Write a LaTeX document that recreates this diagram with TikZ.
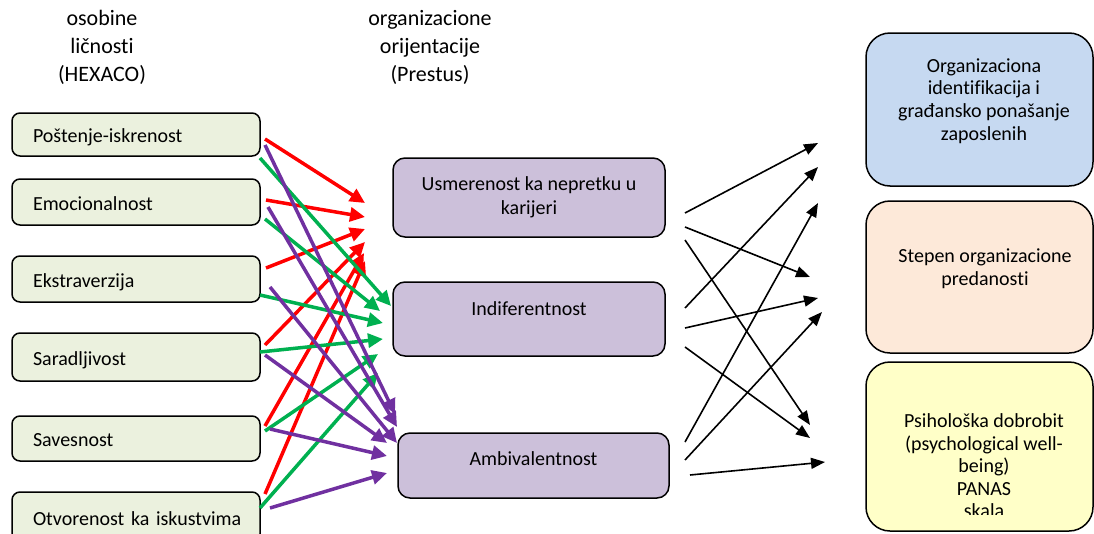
\documentclass[tikz,border=0pt]{standalone}
\usepackage{fontspec}
\setmainfont{Carlito}[Ligatures=NoCommon]
\usetikzlibrary{arrows.meta}
\definecolor{hexfill}{HTML}{EBF1DE}
\definecolor{orfill}{HTML}{CCC0DA}
\definecolor{identfill}{HTML}{C6D9F1}
\definecolor{predfill}{HTML}{FDE9D9}
\definecolor{dobrofill}{HTML}{FFFFC8}
\definecolor{redarrow}{HTML}{FF0000}
\definecolor{greenarrow}{HTML}{00B050}
\definecolor{purplearrow}{HTML}{7030A0}

\begin{document}
\begin{tikzpicture}[x=1pt,y=-1pt,
	every node/.style={font=\fontsize{20}{23}\selectfont},
	hexbox/.style={draw,line width=1.5pt,rounded corners=8pt,fill=hexfill,
		inner xsep=21pt,text width=206pt,align=left,text height=16pt,text depth=0pt,
		minimum height=#1},
	orbox/.style={draw,line width=1.5pt,rounded corners=12pt,fill=orfill},
	outbox/.style={draw,line width=1.5pt,rounded corners=24pt,fill=#1,
		minimum width=227pt},
	txt/.style={align=center,inner sep=0pt},
	head/.style={txt,font=\fontsize{22}{28}\selectfont},
	colarr/.style={draw=#1,line width=3.5pt,-{Triangle[length=15pt,width=14pt]}},
	blkarr/.style={line width=1.6pt,-{Triangle[length=14pt,width=11pt]}}]
	\clip (0,0) rectangle (1094,533);
	\node[head] (hexaco) at (102,47) {osobine\\ličnosti\\(HEXACO)};
	\node[head] (prestus) at (430,47) {organizacione\\orijentacije\\(Prestus)};

	\node[hexbox=43pt] (post) at (136,134.5) {Poštenje-iskrenost};
	\node[hexbox=46pt] (emoc) at (136,202) {Emocionalnost};
	\node[hexbox=46pt] (ekst) at (136,279) {Ekstraverzija};
	\node[hexbox=48pt] (sarad) at (136,357) {Saradljivost};
	\node[hexbox=45pt] (saves) at (136,438.5) {Savesnost};
	\node[hexbox=50pt] (otvor) at (136,517) {\mbox{Otvorenost ka iskustvima}};

	\node[orbox,minimum width=272pt,minimum height=79pt,align=center,
		font=\fontsize{20}{24}\selectfont] (usmer) at (529,197.5) {Usmerenost ka nepretku u\\karijeri};
	\node[orbox,minimum width=272pt,inner ysep=0pt,text height=33pt,text depth=41pt] (indif) at (529,319) {Indiferentnost};
	\node[orbox,minimum width=271pt,inner ysep=0pt,text height=32pt,text depth=33pt] (ambiv) at (533.5,465.5) {Ambivalentnost};

	\node[outbox=identfill,minimum height=153pt] (ident) at (979.5,109.5) {};
	\node[outbox=predfill,minimum height=152pt] (pred) at (979.5,277) {};
	\node[outbox=dobrofill,minimum height=169pt] (dobro) at (979.5,446.5) {};
	\node[txt,font=\fontsize{20}{22.7}\selectfont] (ident-t) at (984,101) {Organizaciona\\identifikacija i\\građansko ponašanje\\zaposlenih};
	\node[txt,font=\fontsize{20}{22.7}\selectfont] (pred-t) at (985,268.5) {Stepen organizacione\\predanosti};
	\begin{scope}
		\clip (860,380) rectangle (1094,514);
		\node[txt,font=\fontsize{20}{22.5}\selectfont] (dobro-t) at (984,466) {Psihološka dobrobit\\(psychological well-\\being)\\PANAS\\skala};
	\end{scope}

	\coordinate (post-r) at (265,139);
	\coordinate (emoc-r) at (266,200);
	\coordinate (ekst-r) at (266,268);
	\coordinate (sarad-r) at (265,345);
	\coordinate (saves-r) at (265,426);
	\coordinate (otvor-r) at (265,494);
	\coordinate (usmer-1) at (365,203);
	\coordinate (usmer-2) at (365,217);
	\coordinate (usmer-3) at (365,229);
	\coordinate (usmer-4) at (365,242);
	\coordinate (usmer-5) at (364,253);
	\coordinate (usmer-6) at (365,261);
	\draw[colarr=redarrow] (post-r) -- (usmer-1);
	\draw[colarr=redarrow] (emoc-r) -- (usmer-2);
	\draw[colarr=redarrow] (ekst-r) -- (usmer-3);
	\draw[colarr=redarrow] (sarad-r) -- (usmer-4);
	\draw[colarr=redarrow] (saves-r) -- (usmer-5);
	\draw[colarr=redarrow] (otvor-r) -- (usmer-6);

	\coordinate (post-g) at (260,158);
	\coordinate (emoc-g) at (265,219);
	\coordinate (ekst-g) at (260,295);
	\coordinate (sarad-g) at (260,352);
	\coordinate (saves-g) at (265,431);
	\coordinate (otvor-g) at (260,508);
	\coordinate (indif-1) at (391,306);
	\coordinate (indif-2) at (380,311);
	\coordinate (indif-3) at (383,323);
	\coordinate (indif-4) at (383,339);
	\coordinate (indif-5) at (378,354);
	\coordinate (indif-6) at (378,373);
	\draw[colarr=greenarrow] (post-g) -- (indif-1);
	\draw[colarr=greenarrow] (emoc-g) -- (indif-2);
	\draw[colarr=greenarrow] (ekst-g) -- (indif-3);
	\draw[colarr=greenarrow] (sarad-g) -- (indif-4);
	\draw[colarr=greenarrow] (saves-g) -- (indif-5);
	\draw[colarr=greenarrow] (otvor-g) -- (indif-6);

	\coordinate (post-p) at (265,145);
	\coordinate (emoc-p) at (268,207);
	\coordinate (ekst-p) at (270,287);
	\coordinate (sarad-p) at (265,355);
	\coordinate (saves-p) at (270,429);
	\coordinate (otvor-p) at (270,508);
	\coordinate (ambiv-1) at (395,414);
	\coordinate (ambiv-2) at (397,427);
	\coordinate (ambiv-3) at (397,443);
	\coordinate (ambiv-4) at (387,443);
	\coordinate (ambiv-5) at (387,456);
	\coordinate (ambiv-6) at (387,473);
	\draw[colarr=purplearrow] (post-p) -- (ambiv-1);
	\draw[colarr=purplearrow] (emoc-p) -- (ambiv-2);
	\draw[colarr=purplearrow] (ekst-p) -- (ambiv-3);
	\draw[colarr=purplearrow] (sarad-p) -- (ambiv-4);
	\draw[colarr=purplearrow] (saves-p) -- (ambiv-5);
	\draw[colarr=purplearrow] (otvor-p) -- (ambiv-6);

	\coordinate (usmer-o1) at (685,213);
	\coordinate (usmer-o2) at (685,227);
	\coordinate (usmer-o3) at (685,240);
	\coordinate (indif-o1) at (685,308);
	\coordinate (indif-o2) at (685,328);
	\coordinate (indif-o3) at (685,347);
	\coordinate (ambiv-o1) at (685,442);
	\coordinate (ambiv-o2) at (685,460);
	\coordinate (ambiv-o3) at (690,475);
	\coordinate (ident-1) at (818,143);
	\coordinate (ident-2) at (818,167);
	\coordinate (ident-3) at (818,203);
	\coordinate (pred-1) at (810,277);
	\coordinate (pred-2) at (818,298);
	\coordinate (pred-3) at (822,312);
	\coordinate (dobro-1) at (810,425);
	\coordinate (dobro-2) at (810,438);
	\coordinate (dobro-3) at (825,462);
	\draw[blkarr] (usmer-o1) -- (ident-1);
	\draw[blkarr] (usmer-o2) -- (pred-1);
	\draw[blkarr] (usmer-o3) -- (dobro-1);
	\draw[blkarr] (indif-o1) -- (ident-2);
	\draw[blkarr] (indif-o2) -- (pred-2);
	\draw[blkarr] (indif-o3) -- (dobro-2);
	\draw[blkarr] (ambiv-o1) -- (ident-3);
	\draw[blkarr] (ambiv-o2) -- (pred-3);
	\draw[blkarr] (ambiv-o3) -- (dobro-3);
\end{tikzpicture}
\end{document}
